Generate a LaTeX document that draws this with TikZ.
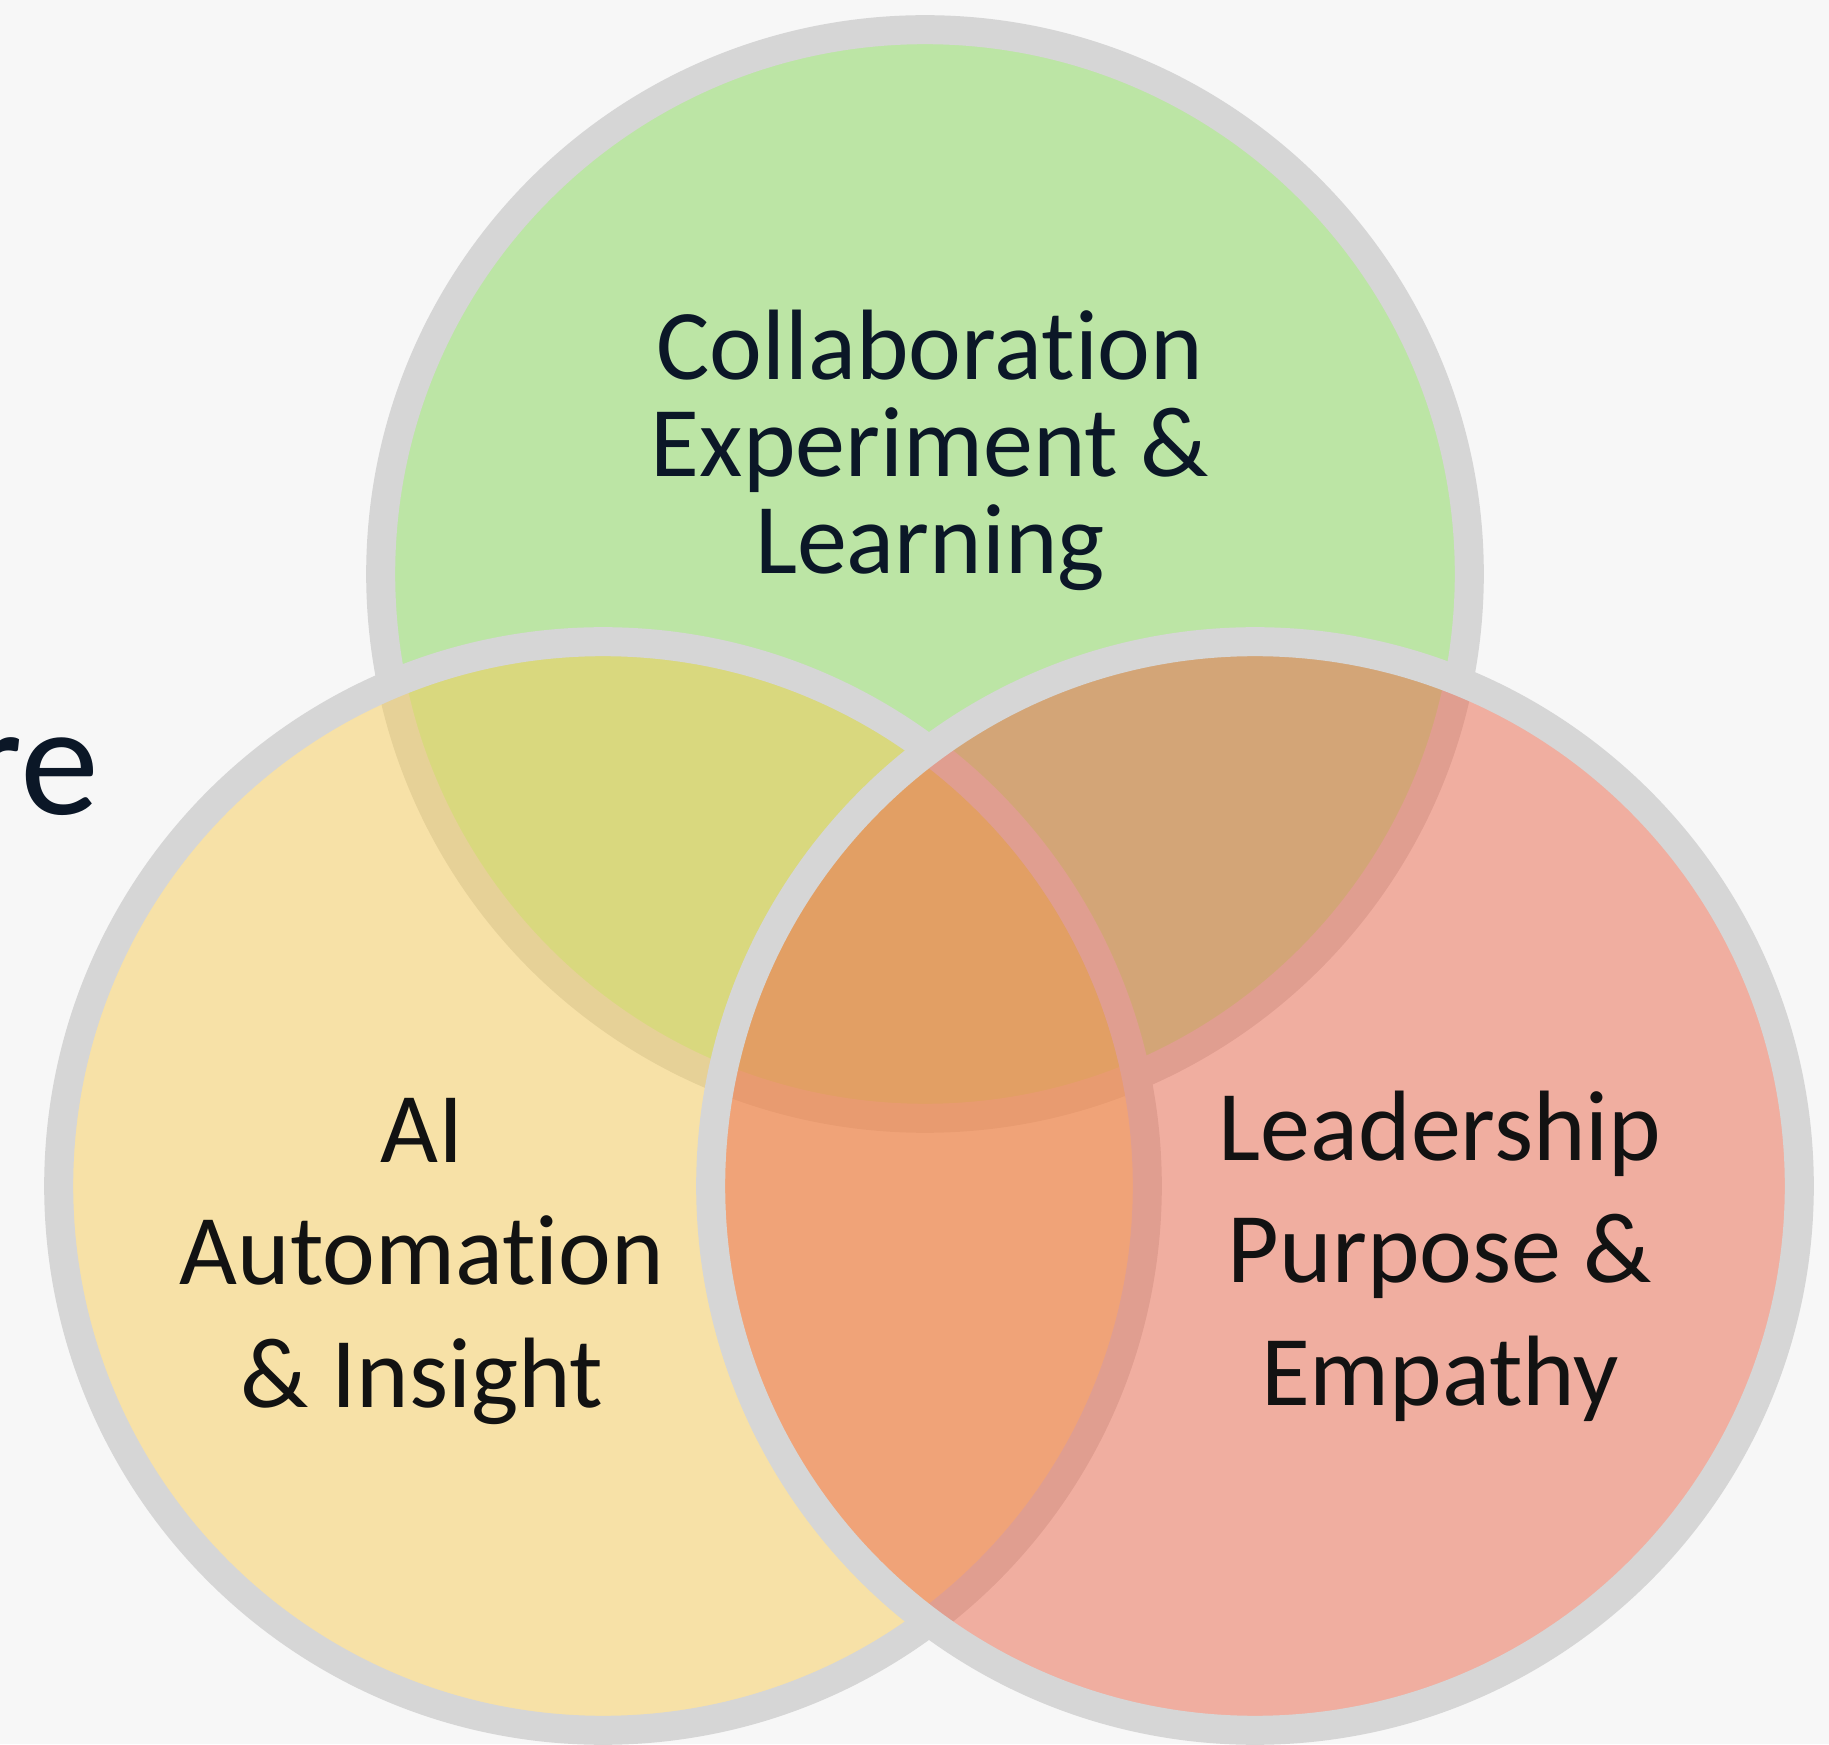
\documentclass[tikz,border=0pt]{standalone}
\usepackage{fontspec}
\setmainfont{Carlito}[Ligatures=CommonOff]
\usepackage{tikz}

\definecolor{bgcol}{HTML}{F7F7F7}
\definecolor{ringcol}{HTML}{D6D6D6}
\definecolor{collabcol}{RGB}{131,213,85}
\definecolor{aicol}{RGB}{247,205,89}
\definecolor{leadcol}{RGB}{235,103,75}
\definecolor{navycol}{HTML}{0B1727}
\definecolor{inkcol}{HTML}{121212}

\begin{document}
\begin{tikzpicture}[x=0.01cm,y=0.01cm,
    venn/.style={circle,draw=ringcol,line width=0.29cm,fill opacity=0.5,draw opacity=1,
                 minimum size=10.88cm,inner sep=0pt,outer sep=0pt},
    venntext/.style={align=center,inner sep=0pt,anchor=base,font=\fontsize{28.45pt}{34.7pt}\selectfont}]
    \fill[bgcol] (0,0) rectangle (1829,1744);
    \useasboundingbox (0,0) rectangle (1829,1744);

    % word cut off at the left edge
    \node[anchor=base west,inner sep=0pt,text=navycol,font=\fontsize{45pt}{50pt}\selectfont] (word) at (-33,929) {re};

    \node[venn,fill=collabcol] (collab) at (925,1170) {};
    \node[venn,fill=aicol]     (ai)     at (603,558)  {};
    \node[venn,fill=leadcol]   (lead)   at (1255,558) {};

    % base anchor sits on the last line
    \node[venntext,text=navycol,font=\fontsize{28.45pt}{27.7pt}\selectfont] (collabtext) at (930,1170)
        {Collaboration\\Experiment \&\\Learning};
    \node[venntext,text=inkcol] (aitext)   at (422,337) {AI\\Automation\\\& Insight};
    \node[venntext,text=inkcol] (leadtext) at (1440,339) {Leadership\\Purpose \&\\Empathy};
\end{tikzpicture}
\end{document}
